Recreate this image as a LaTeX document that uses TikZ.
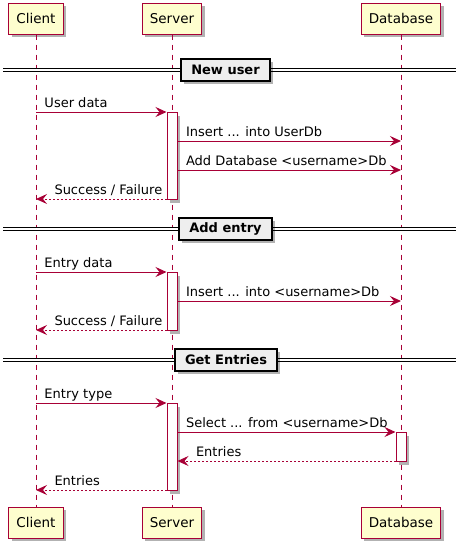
\documentclass[tikz,border=0pt]{standalone}
\usepackage{fontspec}
\setmainfont{DejaVu Sans}
\usetikzlibrary{arrows.meta,shadows}
\definecolor{umlred}{HTML}{A80036}
\definecolor{umlfill}{HTML}{FEFECE}
\definecolor{sepfill}{HTML}{EEEEEE}

\begin{document}
\begin{tikzpicture}
    [x=1pt,y=-1pt,
     shade/.style={drop shadow={shadow xshift=3pt,shadow yshift=-3pt,opacity=0.3,fill=black}},
     actor/.style={draw=umlred,fill=umlfill,line width=1pt,shade,minimum height=31pt,
                   inner xsep=7.5pt,font=\fontsize{13.5}{16}\selectfont},
     life/.style={draw=umlred,line width=0.9pt,dash pattern=on 5pt off 5pt},
     act/.style={draw=umlred,fill=white,line width=1pt,shade,minimum width=10pt,
                 inner sep=0pt,anchor=north},
     msg/.style={draw=umlred,line width=1pt,-{Stealth[length=11pt,width=10pt,inset=4pt]}},
     ret/.style={msg,dash pattern=on 2pt off 2pt},
     lbl/.style={inner sep=0pt,font=\fontsize{13}{15}\selectfont,anchor=base west},
     sepline/.style={draw,line width=1pt,double,double distance=1.6pt},
     sepbox/.style={draw,fill=sepfill,line width=1.8pt,shade,minimum height=22pt,
                    inner xsep=10pt,font=\bfseries\fontsize{13}{15}\selectfont}]
    \useasboundingbox (0,0) rectangle (459,547);
    % participants
    \node[actor] (cl) at (36,18.5) {Client};
    \node[actor] (sv) at (172,18.5) {Server};
    \node[actor] (db) at (401,18.5) {Database};
    \node[actor] (clb) at (36,522.5) {Client};
    \node[actor] (svb) at (172,522.5) {Server};
    \node[actor] (dbb) at (401,522.5) {Database};
    \draw[life] (cl) -- (clb);
    \draw[life] (sv) -- (svb);
    \draw[life] (db) -- (dbb);
    % message rows
    \coordinate (m1) at (0,112);
    \coordinate (m2) at (0,141);
    \coordinate (m3) at (0,170);
    \coordinate (m4) at (0,199);
    \coordinate (m5) at (0,272);
    \coordinate (m6) at (0,301);
    \coordinate (m7) at (0,330);
    \coordinate (m8) at (0,403);
    \coordinate (m9) at (0,432);
    \coordinate (m10) at (0,461);
    \coordinate (m11) at (0,490);
    % dividers
    \draw[sepline] (3,70) -- (456,70);
    \node[sepbox] (new) at (225.5,70) {New user};
    \draw[sepline] (3,229) -- (456,229);
    \node[sepbox] (add) at (225.5,229) {Add entry};
    \draw[sepline] (3,360) -- (456,360);
    \node[sepbox] (get) at (226,360) {Get Entries};
    % activations
    \node[act,minimum height=87pt] (a1) at (sv |- m1) {};
    \node[act,minimum height=58pt] (a2) at (sv |- m5) {};
    \node[act,minimum height=87pt] (a3) at (sv |- m8) {};
    \node[act,minimum height=29pt] (a4) at (db |- m9) {};
    % New user
    \draw[msg] (cl |- m1) -- (a1.north west)
      node[lbl,at start,xshift=8pt,yshift=5pt] {User data};
    \draw[msg] (a1.east |- m2) -- (db |- m2)
      node[lbl,at start,xshift=8pt,yshift=5pt] {Insert ... into UserDb};
    \draw[msg] (a1.east |- m3) -- (db |- m3)
      node[lbl,at start,xshift=8pt,yshift=5pt] {Add Database <username>Db};
    \draw[ret] (a1.west |- m4) -- (cl |- m4)
      node[lbl,at end,xshift=18pt,yshift=5pt] {Success / Failure};
    % Add entry
    \draw[msg] (cl |- m5) -- (a2.north west)
      node[lbl,at start,xshift=8pt,yshift=5pt] {Entry data};
    \draw[msg] (a2.east |- m6) -- (db |- m6)
      node[lbl,at start,xshift=8pt,yshift=5pt] {Insert ... into <username>Db};
    \draw[ret] (a2.west |- m7) -- (cl |- m7)
      node[lbl,at end,xshift=18pt,yshift=5pt] {Success / Failure};
    % Get Entries
    \draw[msg] (cl |- m8) -- (a3.north west)
      node[lbl,at start,xshift=8pt,yshift=5pt] {Entry type};
    \draw[msg] (a3.east |- m9) -- (a4.north west)
      node[lbl,at start,xshift=8pt,yshift=5pt] {Select ... from <username>Db};
    \draw[ret] (a4.west |- m10) -- (a3.east |- m10)
      node[lbl,at end,xshift=18pt,yshift=5pt] {Entries};
    \draw[ret] (a3.west |- m11) -- (cl |- m11)
      node[lbl,at end,xshift=18pt,yshift=5pt] {Entries};
\end{tikzpicture}
\end{document}
